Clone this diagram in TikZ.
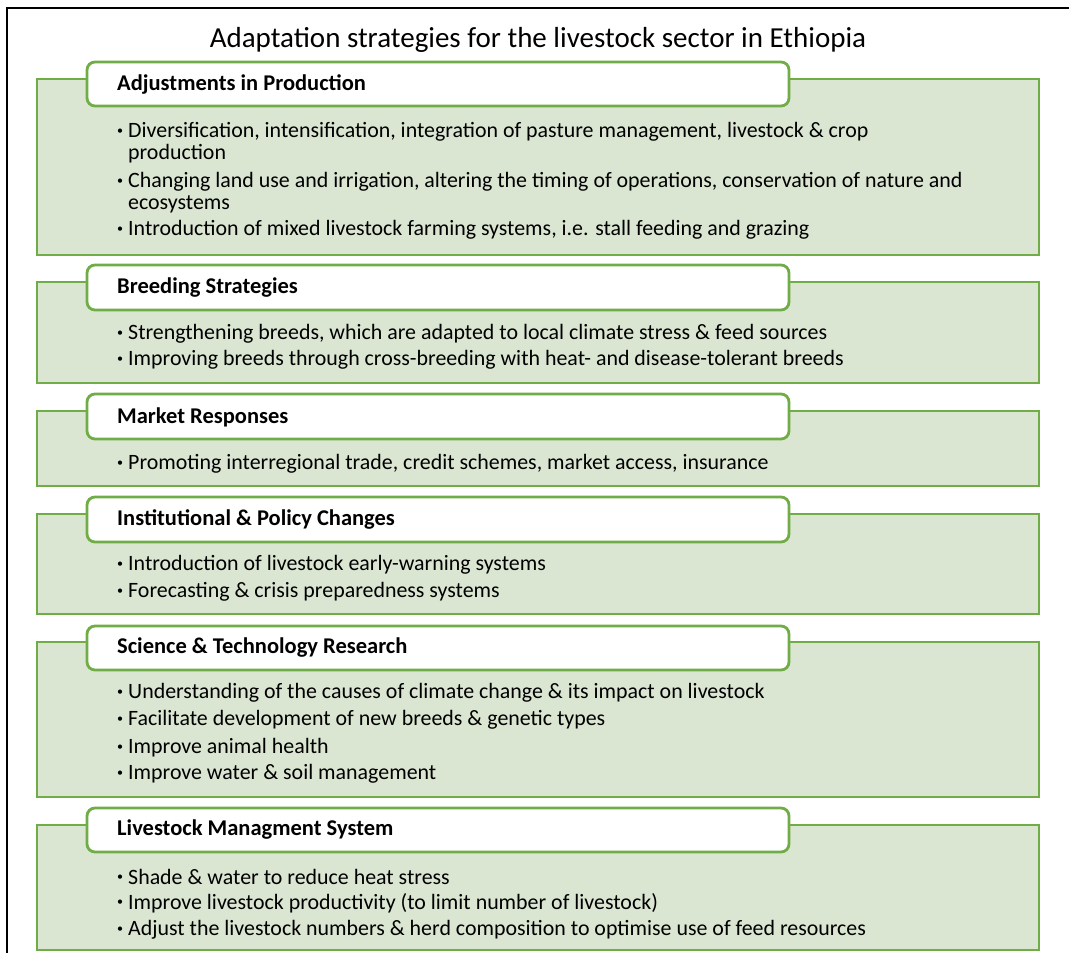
\documentclass[tikz,border=0pt]{standalone}
\usepackage{fontspec}
\usepackage{graphicx}
\setmainfont{Carlito}
\definecolor{gborder}{RGB}{112,173,71}
\definecolor{gfill}{RGB}{218,229,210}
\newcommand{\bul}{\makebox[11pt][l]{\raisebox{0.35ex}{\scalebox{0.55}{•}}}}
\begin{document}
\begin{tikzpicture}[x=1pt,y=-1pt,
  panel/.style={draw=gborder,fill=gfill,line width=2.8pt},
  header/.style={draw=gborder,fill=white,line width=2.8pt,rounded corners=8pt},
  htext/.style={anchor=west,inner sep=0pt,font=\fontsize{22.5}{26}\selectfont\bfseries},
  btext/.style={anchor=west,inner sep=0pt,yshift=-2pt,font=\fontsize{21.9}{26}\selectfont},
  frame/.style={draw=black,line width=2pt}]
\useasboundingbox (0,0) rectangle (1069,953);
\coordinate (ftl) at (7,8);
\coordinate (ftr) at (1069,8);
\coordinate (fbl) at (7,953);
\draw[frame] (fbl) -- (ftl) -- (ftr);
\node[anchor=center,inner sep=0pt,font=\fontsize{29}{32}\selectfont] (title) at (538,40) {Adaptation strategies for the livestock sector in Ethiopia};
% Box 1
\draw[panel] (37,79) rectangle (1039,255);
\draw[header] (87,62) rectangle (789,106);
\node[htext] (h1) at (117,84) {Adjustments in Production};
\node[btext] (b1a) at (117,130) {\bul Diversification, intensification, integration of pasture management, livestock \& crop};
\node[btext] (b1b) at (128,152) {production};
\node[btext] (b1c) at (117,180) {\bul Changing land use and irrigation, altering the timing of operations, conservation of nature and};
\node[btext] (b1d) at (128,202) {ecosystems};
\node[btext] (b1e) at (117,228) {\bul Introduction of mixed livestock farming systems, i.e. stall feeding and grazing};
% Box 2
\draw[panel] (37,282) rectangle (1039,383);
\draw[header] (87,265) rectangle (789,310);
\node[htext] (h2) at (117,288) {Breeding Strategies};
\node[btext] (b2a) at (117,332) {\bul Strengthening breeds, which are adapted to local climate stress \& feed sources};
\node[btext] (b2b) at (117,358) {\bul Improving breeds through cross-breeding with heat- and disease-tolerant breeds};
% Box 3
\draw[panel] (37,411) rectangle (1039,486);
\draw[header] (87,394) rectangle (789,439);
\node[htext] (h3) at (117,417) {Market Responses};
\node[btext] (b3a) at (117,462) {\bul Promoting interregional trade, credit schemes, market access, insurance};
% Box 4
\draw[panel] (37,514) rectangle (1039,614);
\draw[header] (87,497) rectangle (789,542);
\node[htext] (h4) at (117,519) {Institutional \& Policy Changes};
\node[btext] (b4a) at (117,563) {\bul Introduction of livestock early-warning systems};
\node[btext] (b4b) at (117,590) {\bul Forecasting \& crisis preparedness systems};
% Box 5
\draw[panel] (37,642) rectangle (1039,797);
\draw[header] (87,626) rectangle (789,670);
\node[htext] (h5) at (117,648) {Science \& Technology Research};
\node[btext] (b5a) at (117,691) {\bul Understanding of the causes of climate change \& its impact on livestock};
\node[btext] (b5b) at (117,718) {\bul Facilitate development of new breeds \& genetic types};
\node[btext] (b5c) at (117,746) {\bul Improve animal health};
\node[btext] (b5d) at (117,772) {\bul Improve water \& soil management};
% Box 6
\draw[panel] (37,825) rectangle (1039,950);
\draw[header] (87,808) rectangle (789,852);
\node[htext] (h6) at (117,830) {Livestock Managment System};
\node[btext] (b6a) at (117,875) {\bul Shade \& water to reduce heat stress};
\node[btext] (b6b) at (117,901) {\bul Improve livestock productivity (to limit number of livestock)};
\node[btext] (b6c) at (117,928) {\bul Adjust the livestock numbers \& herd composition to optimise use of feed resources};
\end{tikzpicture}
\end{document}
